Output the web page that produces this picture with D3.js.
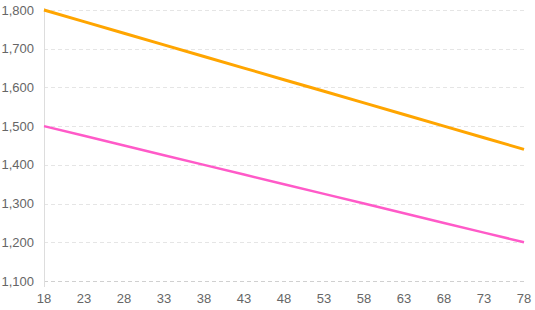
<!DOCTYPE html>
<html>
<head>
<meta charset="utf-8">
<script src="https://cdn.jsdelivr.net/npm/d3@7"></script>
<style>
  body { margin: 0; background: #fff; }
  text { font-family: "Liberation Sans", Arial, sans-serif; }
</style>
</head>
<body>
<div id="chart"></div>
<script>
const ages = [18, 23, 28, 33, 38, 43, 48, 53, 58, 63, 68, 73, 78];
const orangeValues = [1800, 1770, 1740, 1710, 1680, 1650, 1620, 1590, 1560, 1530, 1500, 1470, 1440];
const pinkValues = [1500, 1475, 1450, 1425, 1400, 1375, 1350, 1325, 1300, 1275, 1250, 1225, 1200];
const yTicks = [1100, 1200, 1300, 1400, 1500, 1600, 1700, 1800];

const width = 535, height = 310;
const margin = { top: 10, right: 11, bottom: 29, left: 44 };

const svg = d3.select('#chart').append('svg')
    .attr('width', width)
    .attr('height', height);

const x = d3.scaleLinear()
    .domain([18, 78])
    .range([margin.left, width - margin.right]);

const y = d3.scaleLinear()
    .domain([1100, 1800])
    .range([height - margin.bottom, margin.top]);

// dashed gridlines
svg.append('g')
    .selectAll('line')
    .data(yTicks)
    .enter()
    .append('line')
    .attr('x1', margin.left)
    .attr('x2', width - margin.right)
    .attr('y1', d => Math.round(y(d)) + 0.5)
    .attr('y2', d => Math.round(y(d)) + 0.5)
    .attr('stroke', d => d === 1100 ? '#d0d0d0' : '#e5e5e5')
    .attr('stroke-dasharray', '4,3');

// y axis line
svg.append('line')
    .attr('x1', margin.left + 0.5)
    .attr('x2', margin.left + 0.5)
    .attr('y1', margin.top - 2)
    .attr('y2', height - margin.bottom + 6)
    .attr('stroke', '#dddddd');

// y labels
svg.append('g')
    .selectAll('text')
    .data(yTicks)
    .enter()
    .append('text')
    .attr('x', margin.left - 10)
    .attr('y', d => y(d))
    .attr('dy', '0.35em')
    .attr('text-anchor', 'end')
    .attr('font-size', 13)
    .attr('fill', '#666')
    .text(d => d3.format(',')(d));

// x labels
svg.append('g')
    .selectAll('text')
    .data(ages)
    .enter()
    .append('text')
    .attr('x', d => x(d))
    .attr('y', height - margin.bottom + 22)
    .attr('text-anchor', 'middle')
    .attr('font-size', 13)
    .attr('fill', '#666')
    .text(d => d);

const line = d3.line()
    .x(d => x(d[0]))
    .y(d => y(d[1]));

svg.append('path')
    .datum(ages.map((a, i) => [a, pinkValues[i]]))
    .attr('d', line)
    .attr('fill', 'none')
    .attr('stroke', '#ff5ac8')
    .attr('stroke-width', 2.5);

svg.append('path')
    .datum(ages.map((a, i) => [a, orangeValues[i]]))
    .attr('d', line)
    .attr('fill', 'none')
    .attr('stroke', '#ffa500')
    .attr('stroke-width', 3);
</script>
</body>
</html>
